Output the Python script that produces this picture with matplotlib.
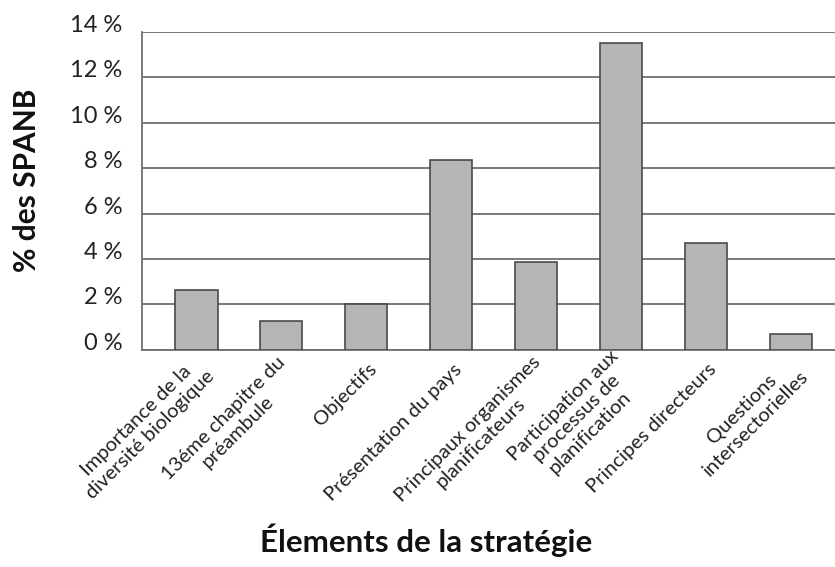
import matplotlib
matplotlib.use("Agg")
import matplotlib.pyplot as plt
from matplotlib.ticker import MultipleLocator, FuncFormatter
from matplotlib.transforms import ScaledTranslation

# data
elements = ["Importance de la\ndiversité biologique",
            "13éme chapitre du\npréambule",
            "Objectifs",
            "Présentation du pays",
            "Principaux organismes\nplanificateurs",
            "Participation aux\nprocessus de\nplanification",
            "Principes directeurs",
            "Questions\nintersectorielles"]
pct = [2.65, 1.28, 2.0, 8.35, 3.85, 13.5, 4.7, 0.7]

plt.rcParams['font.family'] = ['Lato', 'DejaVu Sans']

fig = plt.figure(figsize=(8.35, 5.67), dpi=100)
ax = fig.add_axes([0.170, 0.383, 0.830, 0.561])

x = range(len(pct))
ax.bar(x, pct, width=0.5, color="#b5b5b5", edgecolor="#4a4a4a", linewidth=1.2, zorder=3)

ax.set_xlim(-0.64, 7.52)
ax.set_ylim(0, 14)
ax.yaxis.set_major_locator(MultipleLocator(2))
ax.yaxis.set_major_formatter(FuncFormatter(lambda v, p: "%d %%" % v))
ax.grid(axis="y", color="#707070", linewidth=1.3)
ax.set_axisbelow(True)

for s in ["top", "right"]:
    ax.spines[s].set_visible(False)
for s in ["left", "bottom"]:
    ax.spines[s].set_color("#707070")
    ax.spines[s].set_linewidth(1.3)

ax.tick_params(axis="y", length=0, pad=14, labelsize=17, labelcolor="#222222")
for lab in ax.get_yticklabels():
    lab.set_verticalalignment("baseline")

ax.set_xticks(list(x))
ax.set_xticklabels(elements, rotation=45, ha="right", va="center",
                   rotation_mode="anchor", multialignment="center",
                   fontsize=14.5, color="#222222", linespacing=1.15)
ax.tick_params(axis="x", length=0, pad=12)
shift = ScaledTranslation(8 / 100, 0, fig.dpi_scale_trans)
for lab in ax.get_xticklabels():
    lab.set_transform(lab.get_transform() + shift)

fig.text(27 / 835, 1 - 180 / 567, "% des SPANB", rotation=90, ha="center", va="center",
         fontsize=21.5, fontweight="bold", color="#111111")
fig.text(426 / 835, 1 - 540 / 567, "Élements de la stratégie", ha="center", va="center",
         fontsize=22.5, fontweight="bold", color="#111111")

fig.savefig("out.png", dpi=100)
